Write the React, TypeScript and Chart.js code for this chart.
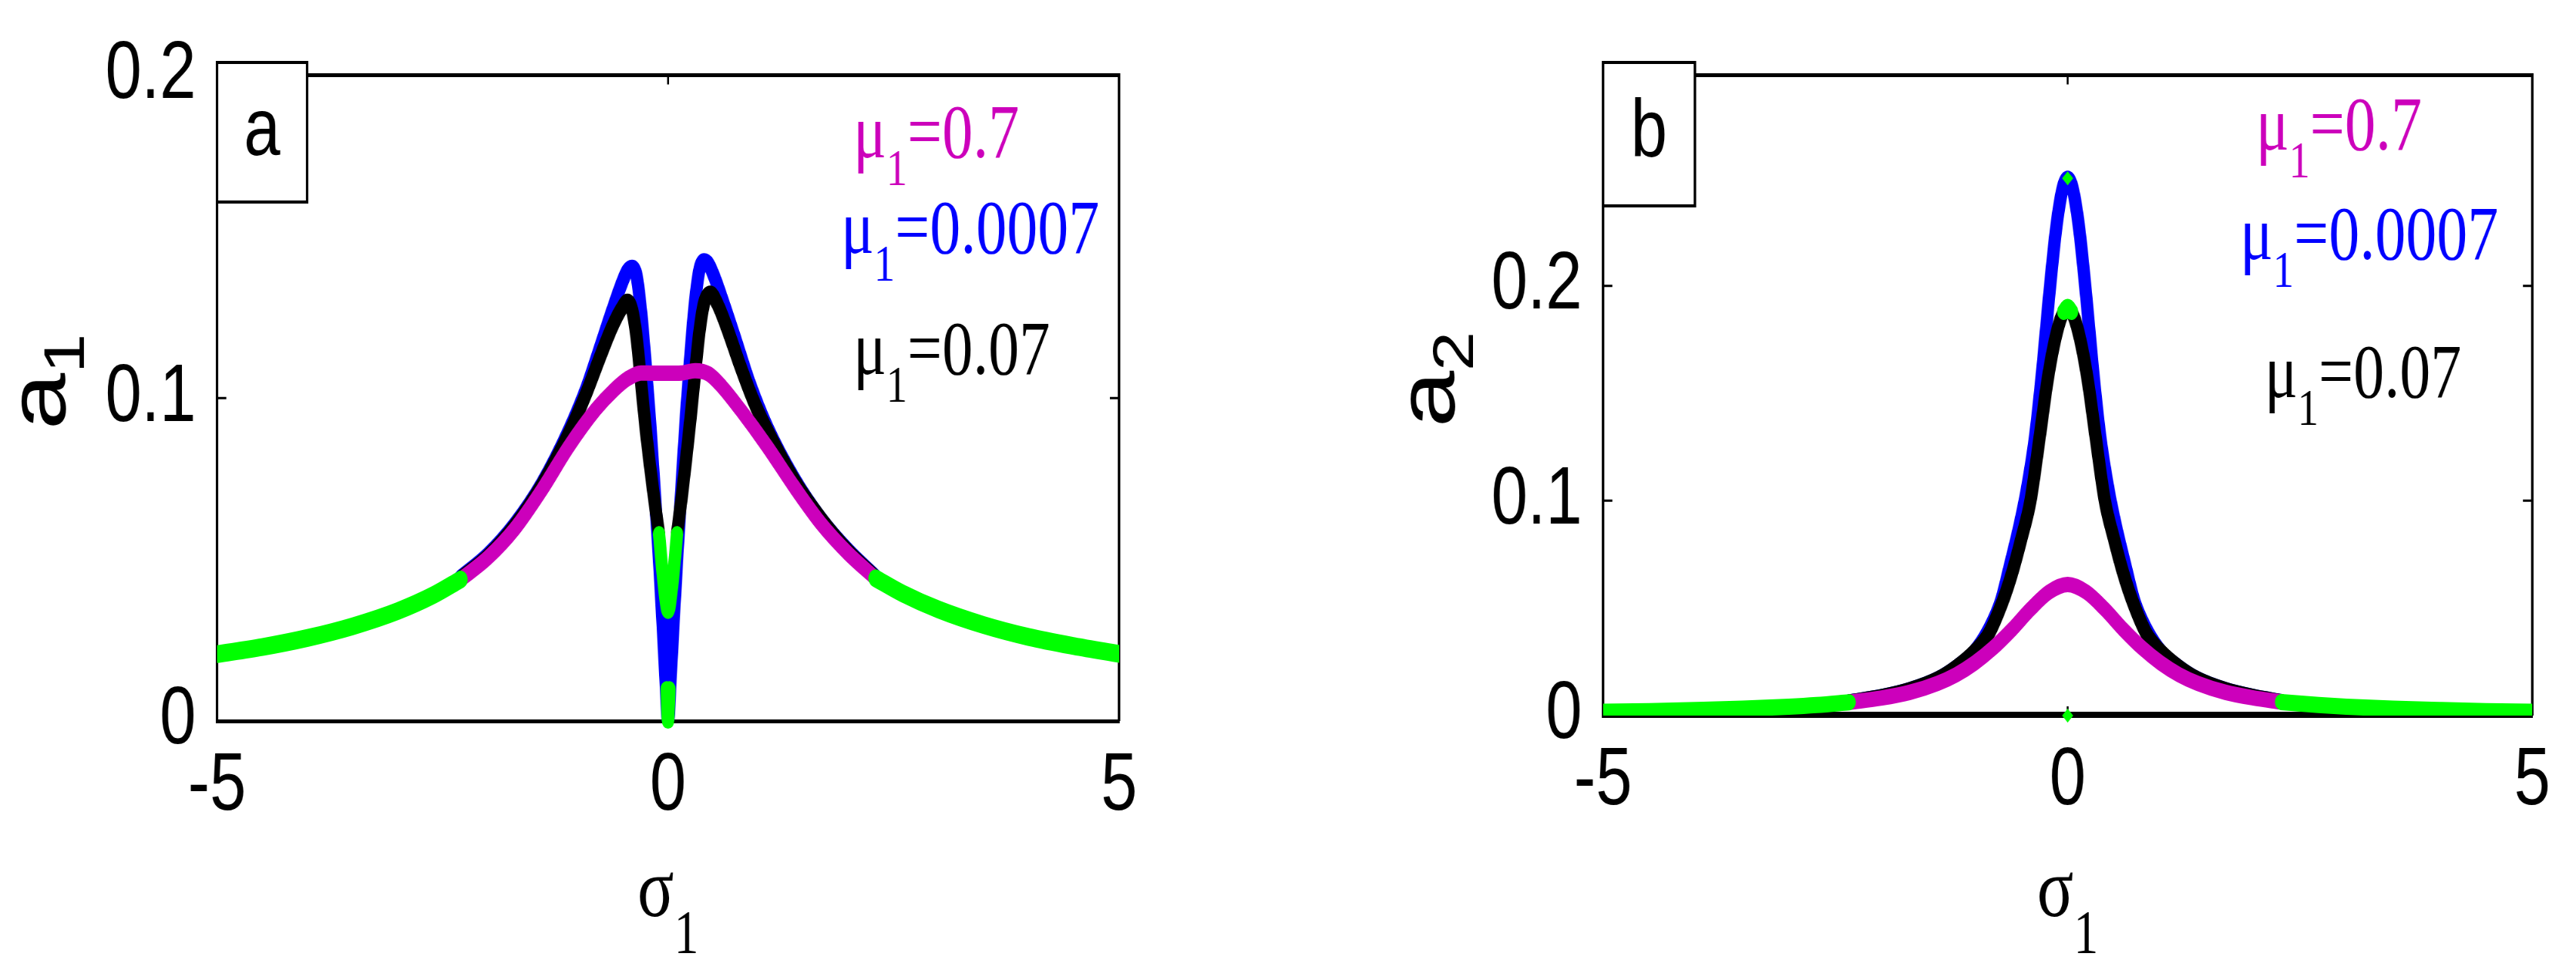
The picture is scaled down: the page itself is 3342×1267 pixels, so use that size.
import React, { useEffect, useRef } from "react";
import { Chart, registerables } from "chart.js";

Chart.register(...registerables);

// ---------- axis ticks ----------
const SIGMA_TICKS = [-5, 0, 5];
const A1_TICKS = [0, 0.1, 0.2];
const A2_TICKS = [0, 0.1, 0.2];

// ---------- legend labels ----------
const MU_VALUES = ["0.7", "0.0007", "0.07"];

// ---------- panel a : a1 vs sigma1 ----------
const aTailLX = [-5, -4.5, -4, -3.5, -3, -2.6, -2.3];
const aTailLY = [0.0207, 0.0229, 0.0257, 0.0293, 0.034, 0.039, 0.0438];
const aTailRX = [2.3, 2.6, 3, 3.5, 4, 4.5, 5];
const aTailRY = [0.0442, 0.0395, 0.0345, 0.0297, 0.026, 0.0232, 0.0208];

const aMagX = [-2.3, -2.0, -1.7, -1.4, -1.1, -0.8, -0.6, -0.45, -0.3, -0.15, 0, 0.15, 0.3, 0.45, 0.6, 0.8, 1.1, 1.4, 1.7, 2.0, 2.3];
const aMagY = [0.0438, 0.0505, 0.0595, 0.0715, 0.085, 0.0965, 0.1025, 0.106, 0.1078, 0.1077, 0.1077, 0.1078, 0.1085, 0.1075, 0.1035, 0.0965, 0.085, 0.0725, 0.061, 0.0518, 0.0442];

const aBlkLX = [-2.3, -2.0, -1.7, -1.4, -1.1, -0.9, -0.75, -0.62, -0.52, -0.45, -0.4, -0.35, -0.3, -0.25, -0.2, -0.15, -0.1];
const aBlkLY = [0.0442, 0.051, 0.0605, 0.073, 0.089, 0.102, 0.113, 0.122, 0.1275, 0.13, 0.1275, 0.119, 0.105, 0.091, 0.079, 0.068, 0.058];
const aBlkRX = [0.1, 0.15, 0.2, 0.25, 0.3, 0.35, 0.4, 0.47, 0.55, 0.65, 0.8, 0.95, 1.1, 1.4, 1.7, 2.0, 2.3];
const aBlkRY = [0.058, 0.069, 0.081, 0.094, 0.108, 0.121, 0.1295, 0.1325, 0.129, 0.122, 0.11, 0.099, 0.09, 0.0745, 0.0625, 0.0525, 0.0445];
const aBlkGX = [-0.1, -0.05, 0, 0.05, 0.1];
const aBlkGY = [0.058, 0.043, 0.034, 0.043, 0.058];

const aBluX = [-2.3, -2.0, -1.7, -1.4, -1.1, -0.9, -0.75, -0.62, -0.52, -0.45, -0.4, -0.35, -0.3, -0.25, -0.2, -0.15, -0.1, -0.06, -0.03, 0, 0.03, 0.06, 0.1, 0.15, 0.2, 0.25, 0.3, 0.35, 0.4, 0.45, 0.52, 0.62, 0.75, 0.9, 1.1, 1.4, 1.7, 2.0, 2.3];
const aBluY = [0.0445, 0.0515, 0.061, 0.0735, 0.09, 0.1035, 0.116, 0.127, 0.135, 0.1395, 0.1405, 0.138, 0.127, 0.111, 0.093, 0.072, 0.05, 0.03, 0.014, 0.0, 0.014, 0.03, 0.05, 0.073, 0.095, 0.114, 0.13, 0.14, 0.1425, 0.1415, 0.137, 0.129, 0.118, 0.105, 0.091, 0.075, 0.0625, 0.0528, 0.0447];
const aBluGX = [-0.015, 0, 0.015];
const aBluGY = [0.01, 0.0, 0.01];

// ---------- panel b : a2 vs sigma1 ----------
const bTailLX = [-5, -4.5, -4, -3.5, -3, -2.7, -2.35];
const bTailLY = [0.0018, 0.0021, 0.0026, 0.0032, 0.0041, 0.0049, 0.0062];
const bTailRX = [2.3, 2.7, 3, 3.5, 4, 4.5, 5];
const bTailRY = [0.0063, 0.0049, 0.0041, 0.0032, 0.0026, 0.0021, 0.0018];

const bMagX = [-2.35, -2.0, -1.7, -1.4, -1.2, -1.0, -0.8, -0.6, -0.4, -0.2, 0, 0.2, 0.4, 0.6, 0.8, 1.0, 1.2, 1.4, 1.7, 2.0, 2.3];
const bMagY = [0.0062, 0.0082, 0.0108, 0.015, 0.019, 0.0245, 0.0315, 0.04, 0.0495, 0.0575, 0.061, 0.0575, 0.0495, 0.04, 0.0315, 0.0245, 0.019, 0.015, 0.0108, 0.0082, 0.0063];

const bBlkLX = [-2.35, -2.0, -1.7, -1.4, -1.2, -1.0, -0.85, -0.7, -0.6, -0.5, -0.4, -0.3, -0.22, -0.15, -0.08, -0.04];
const bBlkLY = [0.0064, 0.0088, 0.012, 0.017, 0.0225, 0.03, 0.038, 0.053, 0.066, 0.082, 0.1, 0.13, 0.155, 0.172, 0.184, 0.188];
const bBlkRX = [0.04, 0.08, 0.15, 0.22, 0.3, 0.4, 0.5, 0.6, 0.7, 0.85, 1.0, 1.2, 1.4, 1.7, 2.0, 2.3];
const bBlkRY = [0.188, 0.184, 0.172, 0.155, 0.13, 0.1, 0.082, 0.066, 0.053, 0.038, 0.03, 0.0225, 0.017, 0.012, 0.0088, 0.0065];
const bBlkGX = [-0.04, 0, 0.04];
const bBlkGY = [0.188, 0.19, 0.188];
const bZeroX = [-5, 5];
const bZeroY = [0, 0];

const bBluX = [-2.35, -2.0, -1.7, -1.4, -1.2, -1.0, -0.85, -0.72, -0.62, -0.52, -0.44, -0.35, -0.27, -0.2, -0.12, -0.05, 0, 0.05, 0.12, 0.2, 0.27, 0.35, 0.44, 0.52, 0.62, 0.72, 0.85, 1.0, 1.2, 1.4, 1.7, 2.0, 2.3];
const bBluY = [0.0064, 0.0088, 0.012, 0.017, 0.0225, 0.03, 0.04, 0.053, 0.07, 0.088, 0.105, 0.13, 0.162, 0.195, 0.228, 0.246, 0.25, 0.246, 0.228, 0.195, 0.162, 0.13, 0.105, 0.088, 0.07, 0.053, 0.04, 0.03, 0.0225, 0.017, 0.012, 0.0088, 0.0065];
const bTipX = [0, 0];
const bTipY = [0.25, 0];

// ---------- styling ----------
const GREEN = "#00ff00";
const BLUE = "#0000ff";
const BLACK = "#000000";
const MAGENTA = "#cc00bb";
const SANS = '"Liberation Sans", Arial, sans-serif';
const SERIF = '"Liberation Serif", "Times New Roman", serif';

// the figure is horizontally condensed: the canvas is drawn wider and shown at this width
const VIEW_W = 1671;
const VIEW_H = 1267;
const SQUEEZE = 0.8;
const CANVAS_W = Math.round(VIEW_W / SQUEEZE);

const pts = (xs: number[], ys: number[]) => xs.map((x, i) => ({ x, y: ys[i] }));

function line(data: any[], color: string, width: number, order: number, extra: any = {}) {
  return {
    data,
    borderColor: color,
    backgroundColor: color,
    borderWidth: width,
    pointRadius: 0,
    fill: false,
    order,
    tension: 0.4,
    cubicInterpolationMode: "monotone",
    borderCapStyle: "round",
    borderJoinStyle: "round",
    ...extra,
  };
}

type Panel = {
  letter: string;
  ySub: string;
  yTicks: number[];
  yMax: number;
  yAxisW: number;
  xAxisH: number;
  padRight: number;
  yTitleX: number;
  yTitleY: number;
  box: { x: number; y: number; w: number; h: number };
  legend: { x: number; y: number }[];
  datasets: any[];
};

const LEGEND_COLORS = [MAGENTA, BLUE, BLACK];

const panelA: Panel = {
  letter: "a",
  ySub: "1",
  yTicks: A1_TICKS,
  yMax: 0.2,
  yAxisW: 352,
  xAxisH: 332,
  padRight: 274,
  yTitleX: 106,
  yTitleY: 495,
  box: { x: 352, y: 81, w: 146, h: 181 },
  legend: [
    { x: 1384, y: 204 },
    { x: 1364, y: 328 },
    { x: 1384, y: 485 },
  ],
  datasets: [
    line(pts(aTailLX, aTailLY), GREEN, 23, 0),
    line(pts(aTailRX, aTailRY), GREEN, 23, 0),
    line(pts(aBlkGX, aBlkGY), GREEN, 20, 0),
    line(pts(aBluGX, aBluGY), GREEN, 20, 0, { clip: false }),
    line(pts(aMagX, aMagY), MAGENTA, 20, 1),
    line(pts(aBlkLX, aBlkLY), BLACK, 20, 2),
    line(pts(aBlkRX, aBlkRY), BLACK, 20, 2),
    line(pts(aBluX, aBluY), BLUE, 20, 3),
  ],
};

const panelB: Panel = {
  letter: "b",
  ySub: "2",
  yTicks: A2_TICKS,
  yMax: 0.298,
  yAxisW: 511,
  xAxisH: 339,
  padRight: 71,
  yTitleX: 270,
  yTitleY: 492,
  box: { x: 511, y: 81, w: 149, h: 186 },
  legend: [
    { x: 1570, y: 194 },
    { x: 1544, y: 336 },
    { x: 1584, y: 515 },
  ],
  datasets: [
    line(pts(bTailLX, bTailLY), GREEN, 21, 0),
    line(pts(bTailRX, bTailRY), GREEN, 21, 0),
    line(pts(bBlkGX, bBlkGY), GREEN, 22, 0),
    line(pts(bTipX, bTipY), GREEN, 0, 0, { showLine: false, pointRadius: 9, pointStyle: "rectRot", pointBorderWidth: 0, clip: false }),
    line(pts(bMagX, bMagY), MAGENTA, 20, 1),
    line(pts(bBlkLX, bBlkLY), BLACK, 20, 2),
    line(pts(bBlkRX, bBlkRY), BLACK, 20, 2),
    line(pts(bBluX, bBluY), BLUE, 20, 3),
    line(pts(bZeroX, bZeroY), BLACK, 10, 4),
  ],
};

// text with a subscript, centred on (0,0) of the current transform, baseline at y=0
function drawSubText(ctx: CanvasRenderingContext2D, base: string, sub: string, font: string, size: number, subSize: number, drop: number) {
  ctx.textBaseline = "alphabetic";
  ctx.textAlign = "left";
  ctx.font = `${size}px ${font}`;
  const wb = ctx.measureText(base).width;
  ctx.font = `${subSize}px ${font}`;
  const ws = ctx.measureText(sub).width;
  const x0 = -(wb + ws) / 2;
  ctx.font = `${size}px ${font}`;
  ctx.fillText(base, x0, 0);
  ctx.font = `${subSize}px ${font}`;
  ctx.fillText(sub, x0 + wb, drop);
}

function drawMu(ctx: CanvasRenderingContext2D, x: number, y: number, value: string, color: string) {
  const size = 100;
  ctx.save();
  ctx.translate(x, y);
  ctx.fillStyle = color;
  ctx.textBaseline = "alphabetic";
  ctx.textAlign = "left";
  ctx.font = `${size}px ${SERIF}`;
  ctx.fillText("μ", 0, 0);
  let cx = ctx.measureText("μ").width;
  ctx.font = `${Math.round(size * 0.68)}px ${SERIF}`;
  ctx.fillText("1", cx, size * 0.36);
  cx += ctx.measureText("1").width;
  ctx.font = `${size}px ${SERIF}`;
  ctx.fillText("=" + value, cx, 0);
  ctx.restore();
}

function framePlugin(p: Panel) {
  return {
    id: "frame" + p.letter,
    beforeDatasetsDraw(chart: any) {
      const { ctx, chartArea: a, scales } = chart;
      ctx.save();
      ctx.strokeStyle = "#000";
      ctx.lineWidth = 5;
      ctx.beginPath();
      ctx.moveTo(a.left, a.top);
      ctx.lineTo(a.right, a.top);
      ctx.stroke();
      ctx.lineWidth = 4;
      ctx.beginPath();
      ctx.moveTo(a.right, a.top - 2.5);
      ctx.lineTo(a.right, a.bottom);
      ctx.stroke();
      ctx.lineWidth = 3;
      ctx.beginPath();
      for (const v of SIGMA_TICKS) {
        const px = scales.x.getPixelForValue(v);
        ctx.moveTo(px, a.top);
        ctx.lineTo(px, a.top + 12);
        ctx.moveTo(px, a.bottom);
        ctx.lineTo(px, a.bottom - 12);
      }
      for (const v of p.yTicks) {
        const py = scales.y.getPixelForValue(v);
        ctx.moveTo(a.left, py);
        ctx.lineTo(a.left + 15, py);
        ctx.moveTo(a.right, py);
        ctx.lineTo(a.right - 15, py);
      }
      ctx.stroke();
      ctx.restore();
    },
    afterDraw(chart: any) {
      const { ctx, chartArea: a } = chart;
      ctx.save();
      // panel letter box
      const b = p.box;
      ctx.fillStyle = "#fff";
      ctx.fillRect(b.x, b.y, b.w, b.h);
      ctx.strokeStyle = "#000";
      ctx.lineWidth = 4;
      ctx.strokeRect(b.x, b.y, b.w, b.h);
      ctx.fillStyle = "#000";
      ctx.font = `106px ${SANS}`;
      ctx.textAlign = "center";
      ctx.textBaseline = "middle";
      ctx.fillText(p.letter, b.x + b.w / 2, b.y + b.h / 2);
      ctx.restore();

      // axis titles
      ctx.save();
      ctx.fillStyle = "#000";
      ctx.translate((a.left + a.right) / 2, 1188);
      drawSubText(ctx, "σ", "1", SERIF, 110, 80, 48);
      ctx.restore();

      ctx.save();
      ctx.fillStyle = "#000";
      ctx.translate(p.yTitleX, p.yTitleY);
      ctx.rotate(-Math.PI / 2);
      drawSubText(ctx, "a", p.ySub, SANS, 132, 92, 30);
      ctx.restore();

      p.legend.forEach((pos, i) => drawMu(ctx, pos.x, pos.y, MU_VALUES[i], LEGEND_COLORS[i]));
    },
  };
}

function makeConfig(p: Panel): any {
  return {
    type: "line",
    data: { datasets: p.datasets },
    plugins: [framePlugin(p)],
    options: {
      responsive: false,
      animation: false,
      events: [],
      devicePixelRatio: 1,
      layout: { padding: { left: 0, top: 81, right: p.padRight, bottom: 0 } },
      plugins: { legend: { display: false }, tooltip: { enabled: false } },
      scales: {
        x: {
          type: "linear",
          min: -5,
          max: 5,
          afterBuildTicks: (s: any) => {
            s.ticks = SIGMA_TICKS.map((v) => ({ value: v }));
          },
          afterFit: (s: any) => {
            s.height = p.xAxisH;
          },
          grid: { display: true, drawOnChartArea: false, drawTicks: false },
          border: { display: true, color: "#000", width: 5 },
          ticks: {
            color: "#000",
            font: { family: SANS, size: 106 },
            padding: 22,
            maxRotation: 0,
            autoSkip: false,
            callback: (v: number) => String(v),
          },
          title: { display: false },
        },
        y: {
          type: "linear",
          min: 0,
          max: p.yMax,
          afterBuildTicks: (s: any) => {
            s.ticks = p.yTicks.map((v) => ({ value: v }));
          },
          afterFit: (s: any) => {
            s.width = p.yAxisW;
          },
          grid: { display: true, drawOnChartArea: false, drawTicks: false },
          border: { display: true, color: "#000", width: 4 },
          ticks: {
            color: "#000",
            font: { family: SANS, size: 106 },
            padding: 34,
            autoSkip: false,
            callback: (v: number) => (v === 0 ? "0" : v.toFixed(1)),
          },
          title: { display: false },
        },
      },
    },
  };
}

function ChartPanel({ panel, left }: { panel: Panel; left: number }) {
  const ref = useRef<HTMLCanvasElement>(null);
  useEffect(() => {
    if (!ref.current) return;
    const chart = new Chart(ref.current, makeConfig(panel));
    return () => chart.destroy();
  }, [panel]);
  return (
    <div style={{ position: "absolute", left, top: 0, width: VIEW_W, height: VIEW_H, overflow: "hidden" }}>
      <canvas
        ref={ref}
        width={CANVAS_W}
        height={VIEW_H}
        style={{ width: `${VIEW_W}px`, height: `${VIEW_H}px`, display: "block" }}
      />
    </div>
  );
}

export default function App() {
  return (
    <div style={{ position: "absolute", left: 0, top: 0, width: 3342, height: 1267, background: "#fff" }}>
      <ChartPanel panel={panelA} left={0} />
      <ChartPanel panel={panelB} left={1671} />
    </div>
  );
}
